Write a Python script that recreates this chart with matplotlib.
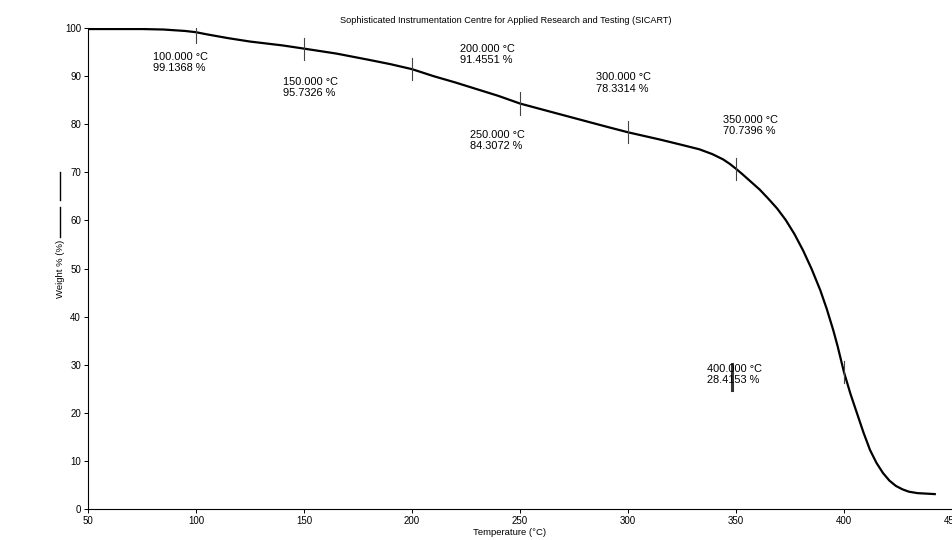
from matplotlib import pyplot as plt
from matplotlib.lines import Line2D

plt.rcParams['font.family'] = ['Liberation Sans', 'DejaVu Sans']

# TGA curve
temp = [50, 60, 75, 85, 95, 100, 105, 115, 125, 140, 150, 165, 180, 190, 200,
        210, 220, 230, 240, 250, 265, 280, 290, 300, 315, 325, 333, 339, 344,
        347, 350, 353, 357, 361, 365, 369, 373, 377, 381, 385, 389, 392, 395,
        397, 400, 403, 406, 409, 412, 415, 418, 421, 424, 427, 430, 434, 438, 442]
weight = [99.8, 99.8, 99.8, 99.7, 99.4, 99.14, 98.7, 97.9, 97.2, 96.4, 95.73,
          94.7, 93.4, 92.5, 91.46, 90.0, 88.7, 87.3, 85.9, 84.31, 82.5, 80.7,
          79.5, 78.33, 76.8, 75.7, 74.8, 73.8, 72.7, 71.8, 70.74, 69.6, 68.0,
          66.4, 64.5, 62.5, 60.1, 57.2, 53.8, 49.9, 45.5, 41.6, 37.2, 33.9,
          28.4, 23.9, 19.9, 15.9, 12.3, 9.6, 7.5, 5.9, 4.8, 4.1, 3.6, 3.3, 3.2, 3.1]

# marked points
mark_t = [100, 150, 200, 250, 300, 350, 400]
mark_w = [99.1368, 95.7326, 91.4551, 84.3072, 78.3314, 70.7396, 28.4153]
# where each label sits (top-left, data coords)
lab_x = [80, 140.5, 222, 227, 285, 344, 336.5]
lab_y = [95.0, 89.8, 96.7, 78.8, 90.8, 81.9, 30.1]

fig = plt.figure(figsize=(9.53, 5.4), dpi=100)
ax = fig.add_axes([0.0923, 0.0574, 0.9067, 0.8906])

ax.plot(temp, weight, color='black', lw=1.6, solid_joinstyle='round')

for t, w, lx, ly in zip(mark_t, mark_w, lab_x, lab_y):
    ax.plot([t, t], [w - 2.3, w + 2.3], color='#444444', lw=0.8)
    ax.text(lx, ly, '%.3f °C\n%.4f %%' % (t, w), fontsize=7.9,
            va='top', ha='left', linespacing=1.15)

# the smudge on the 400 label
ax.plot([348, 348], [24.8, 30.2], color='#333333', lw=2.2)

ax.set_xlim(50, 450)
ax.set_ylim(0, 100)
ax.set_xticks(range(50, 451, 50))
ax.set_yticks(range(0, 101, 10))
ax.tick_params(labelsize=7, length=3, width=0.7, pad=2)
ax.spines['top'].set_visible(False)
ax.spines['right'].set_visible(False)
ax.spines['left'].set_linewidth(0.8)
ax.spines['bottom'].set_linewidth(0.8)

fig.text(0.531, 0.962, 'Sophisticated Instrumentation Centre for Applied Research and Testing (SICART)',
         fontsize=6.6, ha='center', va='center')
fig.text(0.535, 0.006, 'Temperature (°C)', fontsize=6.8, ha='center', va='bottom')
fig.text(0.063, 0.503, 'Weight % (%)', fontsize=6.8, rotation=90, ha='center', va='center')
fig.add_artist(Line2D([0.063, 0.063], [1 - 237 / 540, 1 - 207 / 540], color='black', lw=1.0))
fig.add_artist(Line2D([0.063, 0.063], [1 - 200 / 540, 1 - 172 / 540], color='black', lw=1.0))

plt.savefig('out.png', dpi=100)
